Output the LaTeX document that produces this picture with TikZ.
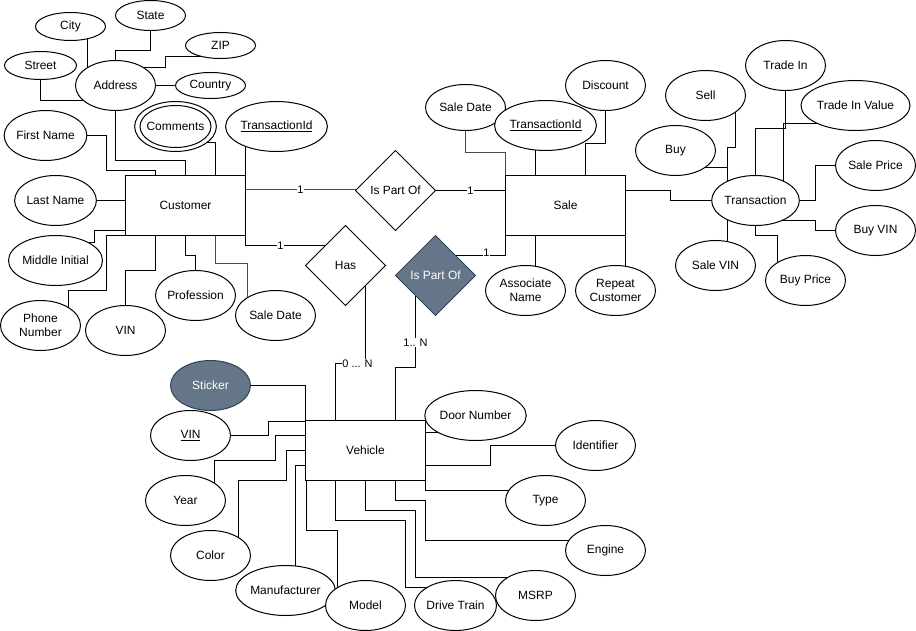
\documentclass[tikz,border=0pt]{standalone}
\usepackage{fontspec}
\setmainfont{Liberation Sans}
\usetikzlibrary{shapes.geometric,backgrounds}
\definecolor{slate}{HTML}{647687}
\definecolor{slatedark}{HTML}{314354}
\definecolor{lgray}{HTML}{4A4A4A}
\begin{document}
\begin{tikzpicture}[x=1bp,y=-1bp,line width=1bp,
  txt/.style={font=\fontsize{12}{14}\selectfont},
  attr/.style={ellipse,draw,fill=white,minimum width=80bp,minimum height=50bp,inner sep=0pt,outer sep=0pt,align=center,txt},
  ent/.style={rectangle,draw,fill=white,minimum width=120bp,minimum height=60bp,inner sep=0pt,outer sep=0pt,txt},
  rel/.style={diamond,draw,fill=white,minimum width=80bp,minimum height=80bp,aspect=1,inner sep=0pt,outer sep=0pt,txt},
  dark/.style={fill=slate,draw=slatedark,text=white},
  card/.style={fill=white,inner sep=0.5pt,font=\fontsize{11}{12}\selectfont},
  grayline/.style={draw=lgray}
]
\useasboundingbox (-0.5,-0.5) rectangle (915.5,630.5);

% ---------- Customer side ----------
\node[attr,minimum width=70bp,minimum height=28bp] (City) at (70,26) {City};
\node[attr,minimum width=70bp,minimum height=30bp] (State) at (150,15) {State};
\node[attr,minimum width=70bp,minimum height=26bp] (ZIP) at (220,45) {ZIP};
\node[attr,minimum width=72bp,minimum height=28bp] (Street) at (40,65) {Street};
\node[attr] (Address) at (115,85) {Address};
\node[attr,minimum width=70bp,minimum height=26bp] (Country) at (210,85) {Country};
\node[attr] (Comments) at (175,126) {Comments};
\draw (Comments.center) ellipse [x radius=35.5bp, y radius=21bp];
\node[attr] (TIdC) at (276,126) {\underline{TransactionId}};
\node[attr] (FirstName) at (45,135) {First Name};
\node[ent] (Customer) at (185,205) {Customer};
\node[attr] (LastName) at (55,200) {Last Name};
\node[attr] (Middle) at (55,260) {Middle Initial};
\node[attr] (Phone) at (40,325) {Phone\\Number};
\node[attr] (VINc) at (125,330) {VIN};
\node[attr] (Profession) at (195,295) {Profession};
\node[attr] (SaleDateC) at (275,315) {Sale Date};

% ---------- Relationships ----------
\node[rel] (IsPartOfA) at (395,190) {Is Part Of};
\node[rel] (Has) at (345,265) {Has};
\node[rel,dark] (IsPartOfB) at (435,275) {Is Part Of};

% ---------- Sale side ----------
\node[ent] (Sale) at (565,205) {Sale};
\node[attr,minimum height=46bp] (SaleDateS) at (465,107) {Sale Date};
\node[attr] (TIdS) at (545,125) {\underline{TransactionId}};
\node[attr] (Discount) at (605,85) {Discount};
\node[attr] (Associate) at (525,290) {Associate\\Name};
\node[attr] (Repeat) at (615,290) {Repeat\\Customer};

% ---------- Transaction ----------
\node[attr] (Transaction) at (755,200) {Transaction};
\node[attr] (TradeIn) at (785,65) {Trade In};
\node[attr] (Sell) at (705,95) {Sell};
\node[attr] (Buy) at (675,150) {Buy};
\node[attr] (TradeInValue) at (855,105) {Trade In Value};
\node[attr] (SalePrice) at (875,165) {Sale Price};
\node[attr] (BuyVIN) at (875,230) {Buy VIN};
\node[attr] (SaleVIN) at (715,265) {Sale VIN};
\node[attr] (BuyPrice) at (805,280) {Buy Price};

% ---------- Vehicle ----------
\node[ent] (Vehicle) at (365,450) {Vehicle};
\node[attr,dark] (Sticker) at (210,385) {Sticker};
\node[attr] (VINv) at (190,435) {\underline{VIN}};
\node[attr] (Year) at (185,500) {Year};
\node[attr] (Color) at (210,555) {Color};
\node[attr] (Manufacturer) at (285,590) {Manufacturer};
\node[attr] (Model) at (365,605) {Model};
\node[attr] (DriveTrain) at (455,605) {Drive Train};
\node[attr] (MSRP) at (535,595) {MSRP};
\node[attr] (Engine) at (605,550) {Engine};
\node[attr] (Type) at (545,500) {Type};
\node[attr] (Identifier) at (595,445) {Identifier};
\node[attr] (DoorNumber) at (475,415) {Door Number};

% ---------- cardinality labels ----------
\node[card] (cA) at (300,189) {1};
\node[card] (cB) at (470,190) {1};
\node[card] (cC) at (280,245) {1};
\node[card] (cD) at (486,252) {1};
\node[card] (cE) at (357,363) {0 ... N};
\node[card] (cF) at (415,342) {1.. N};

% ---------- connectors ----------
\begin{scope}[on background layer]
% customer attributes
\draw (City.center) ++(17,0) -- (87,0 |- Address.center);
\draw (State.center) -- (150,50) -- (115,50) -- (Address.center);
\draw (ZIP.center) ++(-10,11) -- (165,56) -- (165,67) -- (Address.center |- 0,67);
\draw (Street.center) -- (40,100) -- (Address.center |- 0,100);
\draw (Address.center) -- (Country.center);
\draw (Address.center) -- (115,160) -- (185,160) -- (Customer.center);
\draw (FirstName.center) -- (106,135) -- (106,170) -- (155,170) -- (155,0 |- Customer.center);
\draw (Comments.center) ++(0,16) -- (215,142) -- (215,0 |- Customer.center);
\draw (TIdC.center) ++(-31,0) -- (245,0 |- Customer.center);
\draw (LastName.center) -- (Customer.center |- LastName.center);
\draw (Middle.center) ++(0,-18) -- (94,242) -- (94,230) -- (Customer.center |- 0,230);
\draw (Phone.center) ++(28,0) -- (68,290) -- (106,290) -- (106,235) -- (Customer.center |- 0,235);
\draw (VINc.center) -- (125,270) -- (155,270) -- (155,0 |- Customer.center);
\draw (Profession.center) -- (195,255) -- (185,255) -- (Customer.center);
\draw[grayline] (SaleDateC.center) ++(-28,0) -- (247,263) -- (215,263) -- (215,0 |- Customer.center);
% relationships
\draw[grayline] (Customer.center |- 0,189) -- (IsPartOfA.center |- 0,189);
\draw (IsPartOfA.center) -- (Sale.center |- IsPartOfA.center);
\draw (245,0 |- Customer.center) -- (245,245) -- (Has.center |- 0,245);
\draw (IsPartOfB.center |- 0,255) -- (505,255) -- (505,0 |- Sale.center);
\draw (Has.center) ++(20,0) -- (365,363) -- (335,363) -- (335,0 |- Vehicle.center);
\draw (IsPartOfB.center) ++(-20,0) -- (415,367) -- (395,367) -- (395,0 |- Vehicle.center);
% sale attributes
\draw[grayline] (SaleDateS.center) -- (465,152) -- (505,152) -- (505,0 |- Sale.center);
\draw (TIdS.center) ++(-10,0) -- (535,0 |- Sale.center);
\draw (Discount.center) -- (605,143) -- (585,143) -- (585,0 |- Sale.center);
\draw (Associate.center) ++(10,0) -- (535,0 |- Sale.center);
\draw (Repeat.center) ++(10,0) -- (625,0 |- Sale.center);
\draw (Sale.center |- 0,190) -- (670,190) -- (670,200) -- (Transaction.center);
% transaction attributes
\draw (TradeIn.center) -- (785,128) -- (755,128) -- (Transaction.center);
\draw (Sell.center) ++(30,0) -- (735,147) -- (727,147) -- (727,0 |- Transaction.center);
\draw (Buy.center) ++(0,17) -- (727,167) -- (727,0 |- Transaction.center);
\draw (TradeInValue.center) ++(0,18) -- (783,123) -- (783,0 |- Transaction.center);
\draw (SalePrice.center) -- (815,165) -- (815,200) -- (Transaction.center);
\draw (BuyVIN.center) -- (815,230) -- (815,220) -- (Transaction.center |- 0,220);
\draw (SaleVIN.center) ++(12,0) -- (727,0 |- Transaction.center);
\draw (BuyPrice.center) ++(-28,0) -- (777,235) -- (755,235) -- (Transaction.center);
% vehicle attributes
\draw (Sticker.center) -- (305,385) -- (305,0 |- Vehicle.center);
\draw (VINv.center) -- (268,435) -- (268,421) -- (Vehicle.center |- 0,421);
\draw (Year.center) ++(29,0) -- (214,460) -- (275,460) -- (275,435) -- (Vehicle.center |- 0,435);
\draw (Color.center) ++(28,0) -- (238,480) -- (286,480) -- (286,450) -- (Vehicle.center);
\draw (Manufacturer.center) ++(10,0) -- (295,465) -- (Vehicle.center |- 0,465);
\draw (Model.center) ++(-28,0) -- (337,530) -- (306,530) -- (306,0 |- Vehicle.center);
\draw (Vehicle.center) ++(-30,0) -- (335,520) -- (405,520) -- (405,587) -- (DriveTrain.center |- 0,587);
\draw (Vehicle.center) -- (365,510) -- (415,510) -- (415,577) -- (MSRP.center |- 0,577);
\draw (Vehicle.center) ++(30,0) -- (395,500) -- (425,500) -- (425,540) -- (Engine.center |- 0,540);
\draw (Vehicle.center) ++(60,0) -- (425,490) -- (Type.center |- 0,490);
\draw (Identifier.center) -- (490,445) -- (490,465) -- (Vehicle.center |- 0,465);
\draw (Vehicle.center |- 0,432) -- (DoorNumber.center |- 0,432);
\end{scope}
\end{tikzpicture}
\end{document}
